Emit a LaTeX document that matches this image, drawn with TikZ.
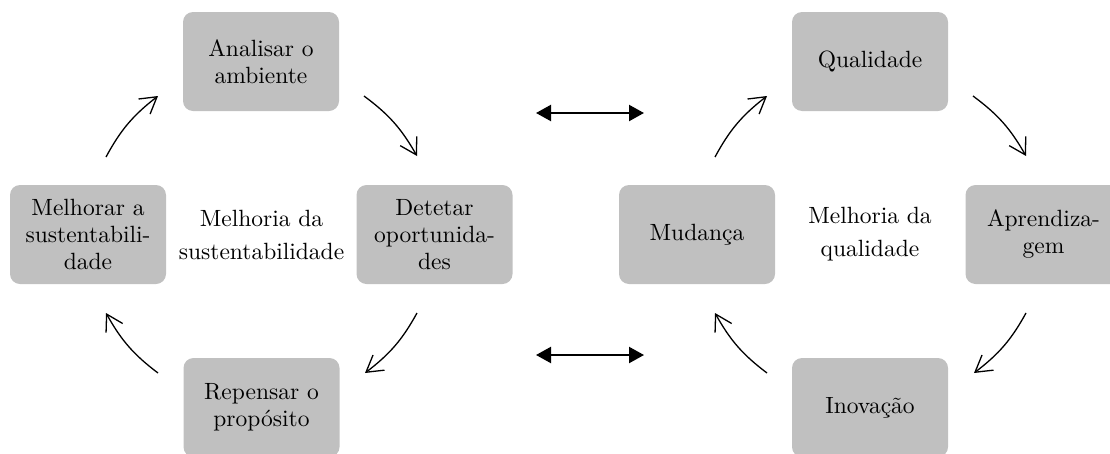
\documentclass[tikz,border=0pt]{standalone}
\usepackage{fontspec}
\setmainfont{lmroman10-regular}[Extension=.otf]
\usetikzlibrary{arrows.meta,bending}
\definecolor{boxgray}{HTML}{C0C0C0}

\begin{document}
\begin{tikzpicture}[x=1pt,y=1pt,
  stage/.style={fill=boxgray, rounded corners=10pt, minimum width=156pt,
    minimum height=99pt, inner sep=0pt, align=center,
    font=\fontsize{23.5}{27}\selectfont},
  hub/.style={align=center, inner sep=0pt, font=\fontsize{23.5}{33}\selectfont},
  cyc/.style={line width=1.3pt, bend left=12,
    -{Straight Barb[length=16pt,width=19pt,line width=1.3pt]}},
  link/.style={line width=2.2pt,
    {Triangle[length=15pt,width=16pt]}-{Triangle[length=15pt,width=16pt]}}
]
\useasboundingbox (0,0) rectangle (1110,-453);

% sustainability cycle
\node[stage] (ana) at (261,-61.5)    {Analisar o\\ambiente};
\node[stage] (mel) at (88,-234.5)    {Melhorar a\\sustentabili-\\dade};
\node[stage] (det) at (434.5,-234.5) {Detetar\\oportunida-\\des};
\node[stage] (rep) at (261.5,-407.5) {Repensar o\\propósito};
\node[hub]   (sus) at (261.5,-234.5) {Melhoria da\\sustentabilidade};

% quality cycle
\node[stage] (qua) at (870,-61.5)     {Qualidade};
\node[stage] (mud) at (697,-234.5)    {Mudança};
\node[stage] (apr) at (1043.5,-234.5) {Aprendiza-\\gem};
\node[stage] (ino) at (870,-407.5)    {Inovação};
\node[hub]   (qal) at (870,-234.5)    {Melhoria da\\qualidade};

% arrow end points around the left cycle
\coordinate (melA) at (106,-157);  \coordinate (anaA) at (158,-96);
\coordinate (anaB) at (364,-96);   \coordinate (detA) at (417,-156);
\coordinate (detB) at (417,-313);  \coordinate (repA) at (365,-373);
\coordinate (repB) at (158,-373);  \coordinate (melB) at (106,-313);

% arrow end points around the right cycle
\coordinate (mudA) at (715,-157);  \coordinate (quaA) at (767,-96);
\coordinate (quaB) at (973,-96);   \coordinate (aprA) at (1026,-156);
\coordinate (aprB) at (1026,-313); \coordinate (inoA) at (974,-373);
\coordinate (inoB) at (767,-373);  \coordinate (mudB) at (715,-313);

\draw[cyc] (melA) to (anaA);
\draw[cyc] (anaB) to (detA);
\draw[cyc] (detB) to (repA);
\draw[cyc] (repB) to (melB);

\draw[cyc] (mudA) to (quaA);
\draw[cyc] (quaB) to (aprA);
\draw[cyc] (aprB) to (inoA);
\draw[cyc] (inoB) to (mudB);

% links between the two cycles
\coordinate (topL) at (536,-113); \coordinate (topR) at (644,-113);
\coordinate (botL) at (536,-355); \coordinate (botR) at (644,-355);
\draw[link] (topL) -- (topR);
\draw[link] (botL) -- (botR);
\end{tikzpicture}
\end{document}
